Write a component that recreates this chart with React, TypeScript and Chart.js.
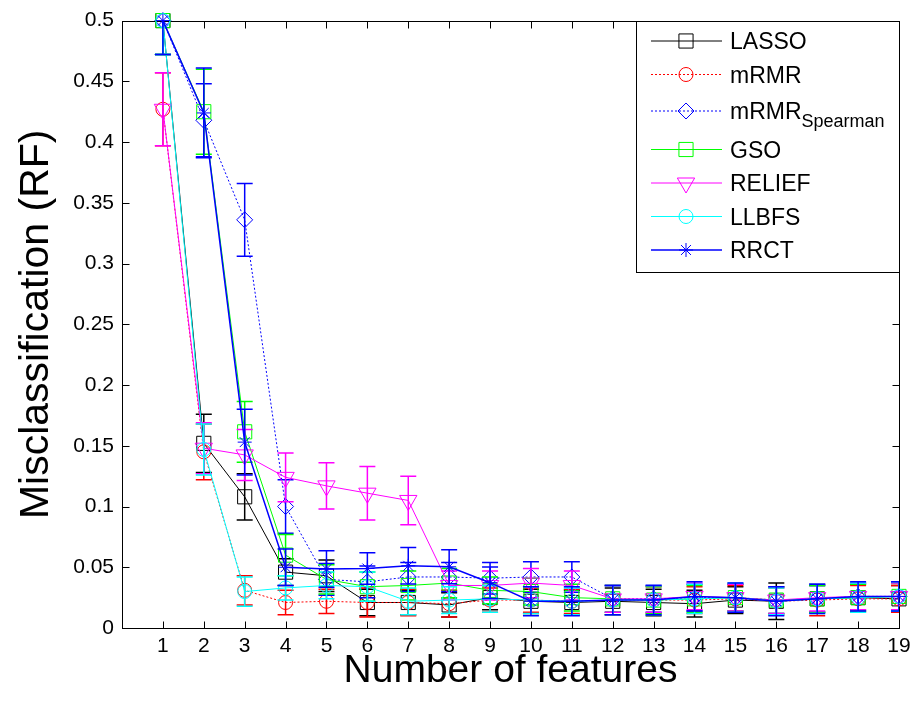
import React, { useEffect, useRef } from "react";
import { Chart, registerables } from "chart.js";

Chart.register(...registerables);

// ---------- data ----------
const features = [1, 2, 3, 4, 5, 6, 7, 8, 9, 10, 11, 12, 13, 14, 15, 16, 17, 18, 19];
const xTickValues = [1, 2, 3, 4, 5, 6, 7, 8, 9, 10, 11, 12, 13, 14, 15, 16, 17, 18, 19];
const yTickValues = [0, 0.05, 0.1, 0.15, 0.2, 0.25, 0.3, 0.35, 0.4, 0.45, 0.5];
const seriesNames = ["LASSO", "mRMR", "mRMR_Spearman", "GSO", "RELIEF", "LLBFS", "RRCT"];

const lasso = [0.5, 0.152, 0.108, 0.046, 0.043, 0.021, 0.021, 0.019, 0.025, 0.022, 0.021, 0.022, 0.021, 0.02, 0.023, 0.022, 0.024, 0.025, 0.024];
const lassoErr = [0.028, 0.024, 0.019, 0.011, 0.013, 0.011, 0.01, 0.01, 0.01, 0.01, 0.01, 0.011, 0.011, 0.011, 0.011, 0.015, 0.011, 0.011, 0.011];

const mrmr = [0.427, 0.145, 0.031, 0.021, 0.022, 0.021, 0.021, 0.02, 0.023, 0.023, 0.022, 0.023, 0.023, 0.023, 0.024, 0.022, 0.023, 0.024, 0.024];
const mrmrErr = [0.03, 0.023, 0.012, 0.01, 0.01, 0.012, 0.011, 0.011, 0.01, 0.01, 0.01, 0.012, 0.011, 0.011, 0.011, 0.011, 0.013, 0.011, 0.011];

const spearman = [0.5, 0.418, 0.336, 0.1, 0.04, 0.038, 0.042, 0.042, 0.041, 0.042, 0.042, 0.024, 0.024, 0.025, 0.025, 0.023, 0.024, 0.026, 0.026];
const spearmanErr = [0.028, 0.03, 0.03, 0.022, 0.013, 0.013, 0.012, 0.012, 0.013, 0.0125, 0.0125, 0.011, 0.011, 0.011, 0.011, 0.011, 0.011, 0.011, 0.012];

const gso = [0.5, 0.425, 0.1615, 0.06, 0.04, 0.034, 0.035, 0.037, 0.031, 0.03, 0.025, 0.024, 0.023, 0.024, 0.025, 0.023, 0.024, 0.025, 0.026];
const gsoErr = [0.028, 0.035, 0.025, 0.017, 0.012, 0.012, 0.012, 0.012, 0.011, 0.011, 0.011, 0.011, 0.011, 0.011, 0.011, 0.011, 0.011, 0.011, 0.011];

const relief = [0.427, 0.148, 0.1425, 0.124, 0.117, 0.111, 0.105, 0.035, 0.035, 0.037, 0.035, 0.024, 0.024, 0.026, 0.025, 0.023, 0.025, 0.026, 0.026];
const reliefErr = [0.03, 0.021, 0.021, 0.02, 0.019, 0.022, 0.02, 0.012, 0.012, 0.012, 0.012, 0.011, 0.011, 0.011, 0.011, 0.011, 0.011, 0.011, 0.011];

const llbfs = [0.5, 0.147, 0.03, 0.033, 0.035, 0.034, 0.022, 0.023, 0.024, 0.023, 0.022, 0.023, 0.023, 0.024, 0.025, 0.022, 0.024, 0.025, 0.026];
const llbfsErr = [0.028, 0.021, 0.012, 0.01, 0.011, 0.012, 0.011, 0.011, 0.011, 0.011, 0.011, 0.012, 0.012, 0.012, 0.012, 0.011, 0.012, 0.012, 0.012];

const rrct = [0.5, 0.424, 0.153, 0.05, 0.0485, 0.049, 0.0512, 0.0504, 0.0373, 0.022, 0.022, 0.023, 0.023, 0.026, 0.025, 0.022, 0.024, 0.026, 0.026];
const rrctErr = [0.028, 0.037, 0.027, 0.015, 0.015, 0.013, 0.015, 0.014, 0.013, 0.012, 0.012, 0.012, 0.012, 0.012, 0.012, 0.012, 0.012, 0.012, 0.012];

const seriesValues = [lasso, mrmr, spearman, gso, relief, llbfs, rrct];
const seriesErrors = [lassoErr, mrmrErr, spearmanErr, gsoErr, reliefErr, llbfsErr, rrctErr];

// ---------- styles ----------
const FONT = "'Liberation Sans', Arial, Helvetica, sans-serif";
const seriesStyles = [
  { color: "#000000", dash: [] as number[], style: "rect", radius: 10, rotation: 0, width: 1 },
  { color: "#ff0000", dash: [2, 2], style: "circle", radius: 7, rotation: 0, width: 1 },
  { color: "#0000ff", dash: [2, 2], style: "rectRot", radius: 8, rotation: 0, width: 1 },
  { color: "#00ff00", dash: [] as number[], style: "rect", radius: 10, rotation: 0, width: 1 },
  { color: "#ff00ff", dash: [] as number[], style: "triangle", radius: 10, rotation: 180, width: 1 },
  { color: "#00ffff", dash: [] as number[], style: "circle", radius: 7, rotation: 0, width: 1 },
  { color: "#0000ff", dash: [] as number[], style: "star", radius: 7, rotation: 0, width: 1.5 },
];

function drawMarker(ctx: CanvasRenderingContext2D, style: string, x: number, y: number, r: number, rotation: number) {
  ctx.beginPath();
  if (style === "rect") {
    const s = r * Math.SQRT1_2;
    ctx.rect(x - s, y - s, 2 * s, 2 * s);
  } else if (style === "circle") {
    ctx.arc(x, y, r, 0, Math.PI * 2);
  } else if (style === "rectRot") {
    ctx.moveTo(x - r, y);
    ctx.lineTo(x, y - r);
    ctx.lineTo(x + r, y);
    ctx.lineTo(x, y + r);
    ctx.closePath();
  } else if (style === "triangle") {
    let rad = (rotation * Math.PI) / 180;
    ctx.moveTo(x + Math.sin(rad) * r, y - Math.cos(rad) * r);
    rad += (2 * Math.PI) / 3;
    ctx.lineTo(x + Math.sin(rad) * r, y - Math.cos(rad) * r);
    rad += (2 * Math.PI) / 3;
    ctx.lineTo(x + Math.sin(rad) * r, y - Math.cos(rad) * r);
    ctx.closePath();
  } else if (style === "star") {
    ctx.moveTo(x - r, y);
    ctx.lineTo(x + r, y);
    ctx.moveTo(x, y - r);
    ctx.lineTo(x, y + r);
    const d = r * Math.SQRT1_2;
    ctx.moveTo(x - d, y - d);
    ctx.lineTo(x + d, y + d);
    ctx.moveTo(x - d, y + d);
    ctx.lineTo(x + d, y - d);
  }
  ctx.stroke();
}

// error bars drawn just before each dataset
const errorBarPlugin = {
  id: "errorBars",
  beforeDatasetDraw(chart: any, args: any) {
    const ds = chart.data.datasets[args.index];
    const errs: number[] = ds.errors;
    if (!errs) return;
    const { ctx, chartArea, scales } = chart;
    const xs = scales.x;
    const ys = scales.y;
    ctx.save();
    ctx.beginPath();
    ctx.rect(chartArea.left, chartArea.top, chartArea.right - chartArea.left, chartArea.bottom - chartArea.top);
    ctx.clip();
    ctx.strokeStyle = ds.borderColor;
    ctx.lineWidth = 1.5;
    ctx.setLineDash([]);
    const cap = 8;
    ds.data.forEach((pt: any, i: number) => {
      const px = xs.getPixelForValue(pt.x);
      const lo = ys.getPixelForValue(pt.y - errs[i]);
      const hi = ys.getPixelForValue(pt.y + errs[i]);
      ctx.beginPath();
      ctx.moveTo(px, lo);
      ctx.lineTo(px, hi);
      ctx.moveTo(px - cap, lo);
      ctx.lineTo(px + cap, lo);
      ctx.moveTo(px - cap, hi);
      ctx.lineTo(px + cap, hi);
      ctx.stroke();
    });
    ctx.restore();
  },
};

// MATLAB-like box with inward ticks
const framePlugin = {
  id: "frame",
  beforeDatasetsDraw(chart: any) {
    const { ctx, chartArea, scales } = chart;
    const L = Math.round(chartArea.left) + 0.5;
    const R = Math.round(chartArea.right) + 0.5;
    const T = Math.round(chartArea.top) + 0.5;
    const B = Math.round(chartArea.bottom) + 0.5;
    ctx.save();
    ctx.strokeStyle = "#000";
    ctx.lineWidth = 1;
    ctx.strokeRect(L, T, R - L, B - T);
    const tl = 7;
    ctx.beginPath();
    xTickValues.forEach((v) => {
      const px = Math.round(scales.x.getPixelForValue(v)) + 0.5;
      ctx.moveTo(px, B);
      ctx.lineTo(px, B - tl);
      ctx.moveTo(px, T);
      ctx.lineTo(px, T + tl);
    });
    yTickValues.forEach((v) => {
      const py = Math.round(scales.y.getPixelForValue(v)) + 0.5;
      ctx.moveTo(L, py);
      ctx.lineTo(L + tl, py);
      ctx.moveTo(R, py);
      ctx.lineTo(R - tl, py);
    });
    ctx.stroke();
    ctx.restore();
  },
};

// legend box (top-right, inside axes)
const legendPlugin = {
  id: "matlabLegend",
  afterDraw(chart: any) {
    const { ctx, chartArea } = chart;
    const w = 263;
    const h = 251;
    const left = Math.round(chartArea.right - w);
    const top = Math.round(chartArea.top);
    ctx.save();
    ctx.fillStyle = "#fff";
    ctx.fillRect(left, top, w, h);
    ctx.strokeStyle = "#000";
    ctx.lineWidth = 1;
    ctx.strokeRect(left + 0.5, top + 0.5, w, h);
    let y = top + 20;
    let prevSub = false;
    chart.data.datasets.forEach((ds: any, i: number) => {
      const parts = String(ds.label).split("_");
      const main = parts[0];
      const sub = parts[1];
      if (i > 0) {
        y += 33.5;
        if (sub) y += 3;
        if (prevSub) y += 5;
      }
      prevSub = !!sub;
      const st = seriesStyles[i];
      ctx.strokeStyle = st.color;
      ctx.lineWidth = st.width;
      ctx.setLineDash(st.dash);
      ctx.beginPath();
      ctx.moveTo(left + 15, y);
      ctx.lineTo(left + 86, y);
      ctx.stroke();
      ctx.setLineDash([]);
      ctx.lineWidth = 1;
      drawMarker(ctx, st.style, left + 50, y, st.radius, st.rotation);
      ctx.fillStyle = "#000";
      ctx.textBaseline = "middle";
      ctx.textAlign = "left";
      ctx.font = `23px ${FONT}`;
      ctx.fillText(main, left + 94, y + 2);
      if (sub) {
        const mw = ctx.measureText(main).width;
        ctx.font = `18px ${FONT}`;
        ctx.fillText(sub, left + 94 + mw, y + 11);
      }
    });
    ctx.restore();
  },
};

export default function App() {
  const ref = useRef<HTMLCanvasElement>(null);

  useEffect(() => {
    const datasets = seriesValues.map((vals, i) => {
      const st = seriesStyles[i];
      return {
        label: seriesNames[i],
        data: features.map((f, j) => ({ x: f, y: vals[j] })),
        errors: seriesErrors[i],
        borderColor: st.color,
        backgroundColor: "rgba(0,0,0,0)",
        borderWidth: st.width,
        borderDash: st.dash,
        pointStyle: st.style,
        pointRadius: st.radius,
        pointHoverRadius: st.radius,
        pointRotation: st.rotation,
        pointBorderColor: st.color,
        pointBackgroundColor: "rgba(0,0,0,0)",
        pointBorderWidth: 1,
        tension: 0,
        fill: false,
        clip: false,
        order: 10 - i,
      };
    });

    const chart = new Chart(ref.current as HTMLCanvasElement, {
      type: "line",
      data: { datasets: datasets as any },
      options: {
        animation: false,
        responsive: false,
        devicePixelRatio: 1,
        layout: { padding: { top: 17, right: 21, left: 0, bottom: 0 } },
        plugins: {
          legend: { display: false },
          tooltip: { enabled: false },
        },
        scales: {
          x: {
            type: "linear",
            min: 0,
            max: 19,
            afterBuildTicks: (s: any) => {
              s.ticks = xTickValues.map((v) => ({ value: v }));
            },
            afterFit: (s: any) => {
              s.height = 73;
            },
            grid: { display: false, drawTicks: false },
            border: { display: false },
            ticks: {
              color: "#000",
              font: { family: FONT, size: 21 },
              padding: 6,
              maxRotation: 0,
              autoSkip: false,
              callback: (v: any) => String(v),
            },
            title: {
              display: true,
              text: "Number of features",
              color: "#000",
              font: { family: FONT, size: 39 },
              padding: { top: 0, bottom: 6 },
            },
          },
          y: {
            type: "linear",
            min: 0,
            max: 0.5,
            afterBuildTicks: (s: any) => {
              s.ticks = yTickValues.map((v) => ({ value: v }));
            },
            afterFit: (s: any) => {
              s.width = 122;
            },
            grid: { display: false, drawTicks: false },
            border: { display: false },
            ticks: {
              color: "#000",
              font: { family: FONT, size: 21 },
              padding: 8,
              autoSkip: false,
              callback: (v: any) => String(Number(Number(v).toFixed(2))),
            },
            title: {
              display: true,
              text: "Misclassification (RF)",
              color: "#000",
              font: { family: FONT, size: 41 },
              padding: { top: 12, bottom: 0 },
            },
          },
        },
      },
      plugins: [framePlugin, errorBarPlugin, legendPlugin],
    });
    return () => chart.destroy();
  }, []);

  return (
    <div style={{ position: "absolute", left: 0, top: 0, width: 920, height: 701, background: "#fff" }}>
      <canvas ref={ref} width={920} height={701} style={{ display: "block", width: 920, height: 701 }} />
    </div>
  );
}
